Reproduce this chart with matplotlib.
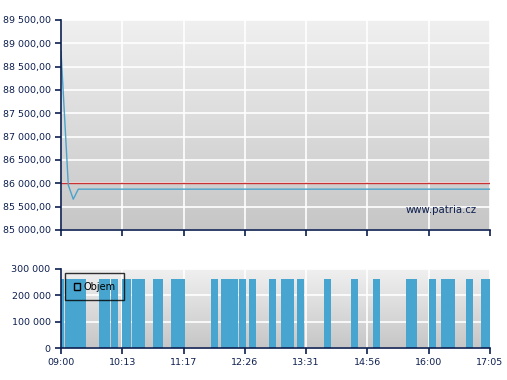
import numpy as np
import matplotlib
matplotlib.use("Agg")
import matplotlib.pyplot as plt
from matplotlib.ticker import FuncFormatter

# x axis is an index scale: one unit between consecutive time labels
time_labels = ["09:00", "10:13", "11:17", "12:26", "13:31", "14:56", "16:00", "17:05"]

price_x = [0.0, 0.119, 0.20, 0.282, 7.0]
price_y = [88830, 85965, 85660, 85875, 85875]
ref_price = 86000

# volume bars: start / end positions on the index scale, common volume
bar_start = [0.0, 0.065, 0.620, 0.816, 0.990, 1.154, 1.501, 1.795, 2.447, 2.611,
             2.904, 3.067, 3.394, 3.590, 3.851, 4.291, 4.731, 5.090, 5.629, 6.004,
             6.200, 6.608, 6.852]
bar_end = [0.049, 0.408, 0.800, 0.930, 1.137, 1.371, 1.659, 2.023, 2.562, 2.883,
           3.018, 3.182, 3.508, 3.802, 3.965, 4.405, 4.846, 5.205, 5.808, 6.118,
           6.428, 6.722, 7.0]
bar_volume = [262000] * len(bar_start)

navy = "#0d1f4f"
plt.rcParams["font.family"] = ["DejaVu Sans"]
plt.rcParams["font.size"] = 6.8

fig = plt.figure(figsize=(5.07, 3.80), dpi=100)
ax1 = fig.add_axes([61 / 507, 1 - 230 / 380, 429 / 507, 210 / 380])
ax2 = fig.add_axes([61 / 507, 1 - 348 / 380, 429 / 507, 79 / 380])

grad = np.linspace(0, 1, 256).reshape(-1, 1)
cmap = matplotlib.colors.LinearSegmentedColormap.from_list("bg", ["#f0f0f0", "#c6c6c6"])

for ax in (ax1, ax2):
    ax.imshow(grad, aspect="auto", cmap=cmap, extent=(0, 1, 0, 1),
              transform=ax.transAxes, zorder=0)
    ax.set_axisbelow(True)
    ax.grid(True, color="white", linewidth=1.2)
    for s in ("top", "right"):
        ax.spines[s].set_visible(False)
    for s in ("left", "bottom"):
        ax.spines[s].set_color(navy)
        ax.spines[s].set_linewidth(1.2)
        ax.spines[s].set_zorder(5)
    ax.tick_params(colors=navy, labelcolor=navy, length=4, width=1.2, direction="out")
    ax.set_xlim(0, 7)
    ax.set_xticks(range(8))

# price chart
ax1.axhline(ref_price, color="#c83232", linewidth=1.0, zorder=3)
ax1.plot(price_x, price_y, color="#4aa3cc", linewidth=1.0, zorder=4)
ax1.set_ylim(85000, 89500)
ax1.set_yticks(np.arange(85000, 89501, 500))
ax1.yaxis.set_major_formatter(FuncFormatter(
    lambda v, p: f"{v:,.2f}".replace(",", " ").replace(".", ",")))
ax1.set_xticklabels([])
ax1.text(0.97, 0.07, "www.patria.cz", transform=ax1.transAxes, ha="right",
         va="bottom", color=navy, fontsize=7.3, zorder=4)

# volume chart
widths = [e - s for s, e in zip(bar_start, bar_end)]
ax2.bar(bar_start, bar_volume, width=widths, align="edge", color="#47a5cf",
        linewidth=0, zorder=2, label="Objem")
ax2.set_ylim(0, 300000)
ax2.set_yticks([0, 100000, 200000, 300000])
ax2.yaxis.set_major_formatter(FuncFormatter(lambda v, p: f"{int(v):,}".replace(",", " ")))
ax2.set_xticklabels(time_labels)

h = matplotlib.patches.Rectangle((0, 0), 1, 1, facecolor="none", edgecolor="black", linewidth=1)
leg = ax2.legend([h], ["Objem"], loc="upper left", bbox_to_anchor=(0.009, 0.95),
                 borderaxespad=0, frameon=True, fancybox=False, handlelength=0.7,
                 handleheight=0.7, borderpad=0.9, handletextpad=0.3, fontsize=7)
leg.get_frame().set_facecolor("none")
leg.get_frame().set_edgecolor("black")
leg.get_frame().set_linewidth(1)
leg.set_zorder(6)

fig.savefig("out.png", dpi=100)
